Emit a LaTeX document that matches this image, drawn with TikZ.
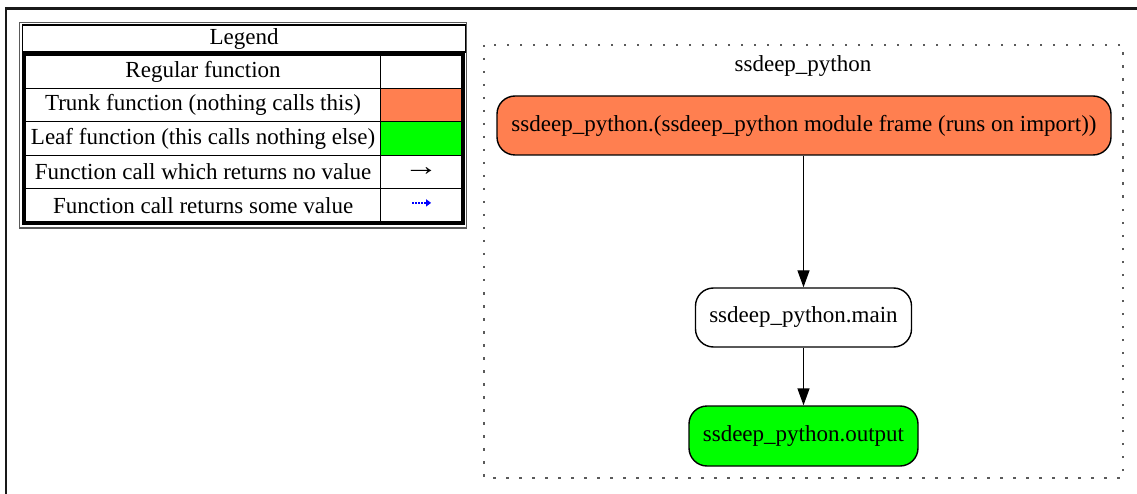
\documentclass[tikz,border=0pt]{standalone}
\usepackage{fontspec}
\setmainfont{Liberation Serif}
\usetikzlibrary{arrows.meta}
\definecolor{trunkfill}{RGB}{255,127,80}
\definecolor{leaffill}{RGB}{0,255,0}
\definecolor{framegray}{RGB}{90,90,90}
\begin{document}
\begin{tikzpicture}[x=1pt,y=-1pt,
  font=\fontsize{23}{27}\selectfont,
  fn/.style={draw, line width=1.4pt, rounded corners=18pt, inner sep=0pt, align=center},
  cell/.style={draw, line width=1.2pt, inner sep=0pt, minimum height=33.4pt, anchor=north west},
  namecell/.style={cell, minimum width=355pt},
  keycell/.style={cell, minimum width=81pt},
  call/.style={-{Triangle[length=17pt,width=12pt]}, line width=1.4pt},
  retcall/.style={-{Triangle[length=5pt,width=7pt]}, blue, line width=1.4pt, dash pattern=on 1.6pt off 1.4pt},
  cluster/.style={draw=framegray, line width=1.6pt, dash pattern=on 2.5pt off 10.5pt}]
\useasboundingbox (0,0) rectangle (1137,494);

% page frame
\draw[line width=2.5pt, black!90] (6.2,500) -- (6.2,8.6) -- (1140,8.6);

% legend
\draw[line width=1.2pt, framegray] (19.5,22.5) rectangle (466.5,228);
\node[draw, line width=1.2pt, inner sep=0pt, minimum width=443pt, minimum height=27pt, anchor=north west]
  (legendtitle) at (22,24.5) {\raisebox{-1.5pt}{Legend}};
\node[namecell] (lreg)   at (25,54.5)  {Regular function};
\node[keycell]  (kreg)   at (380,54.5) {};
\node[namecell] (ltrunk) at (25,87.9)  {Trunk function (nothing calls this)};
\node[keycell, fill=trunkfill] (ktrunk) at (380,87.9) {};
\node[namecell] (lleaf)  at (25,121.3) {Leaf function (this calls nothing else)};
\node[keycell, fill=leaffill] (kleaf) at (380,121.3) {};
\node[namecell] (lnone)  at (25,154.7) {Function call which returns no value};
\node[keycell]  (knone)  at (380,154.7) {\scalebox{1.5}[1.2]{→}};
\node[namecell] (lret)   at (25,188.1) {Function call returns some value};
\node[keycell]  (kret)   at (380,188.1) {};
\draw[retcall] ([xshift=-9pt,yshift=2.5pt]kret.center) -- ([xshift=10pt,yshift=2.5pt]kret.center);
\draw[line width=3.2pt] (23.6,53) rectangle (463,223.6);

% call graph cluster
\draw[cluster] (484,45) rectangle (1123,478);
\node (clusterlabel) at (803,66) {ssdeep\_python};

\node[fn, fill=trunkfill, minimum width=614pt, minimum height=59pt] (trunk) at (804,125.5)
  {ssdeep\_python.(ssdeep\_python module frame (runs on import))};
\node[fn, fill=white, minimum width=216pt, minimum height=59pt] (main) at (803.5,317.5)
  {ssdeep\_python.main};
\node[fn, fill=leaffill, minimum width=229pt, minimum height=60pt] (output) at (803.5,436)
  {ssdeep\_python.output};

\draw[call] (trunk.south -| main.north) -- (main.north);
\draw[call] (main.south) -- (output.north);
\end{tikzpicture}
\end{document}
